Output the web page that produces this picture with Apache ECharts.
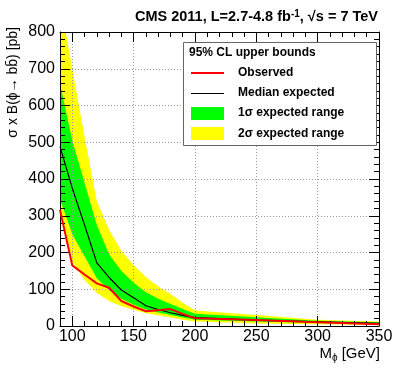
<!DOCTYPE html>
<html>
<head>
<meta charset="utf-8">
<script src="https://cdn.jsdelivr.net/npm/echarts@6/dist/echarts.min.js"></script>
<style>
  html, body { margin: 0; padding: 0; background: #fff; }
  #chart { width: 399px; height: 384px; }
</style>
</head>
<body>
<div id="chart"></div>
<script>
// Higgs mass points [GeV]
var masses = [90, 100, 110, 120, 130, 140, 150, 160, 170, 180, 190, 200, 250, 300, 350];
// 95% CL upper limits [pb]
var observed     = [316, 165, 140, 116, 104, 68, 53, 40, 43, 46, 33, 21, 16, 10, 5];
var expected     = [488, 375, 275, 172, 132, 98, 77, 55, 45, 36, 29, 23, 16, 11, 7];
var oneSigmaLow  = [345, 250, 190, 130, 97, 74, 58, 45, 37, 30, 23, 17, 12, 8, 5];
var oneSigmaHigh = [660, 505, 390, 275, 195, 150, 118, 92, 74, 60, 46, 33, 24, 14, 10];
var twoSigmaLow  = [318, 175, 125, 90, 68, 54, 44, 35, 29, 23, 17, 12, 7, 5, 3];
var twoSigmaHigh = [890, 700, 515, 340, 262, 205, 165, 133, 108, 87, 63, 42, 30, 17, 12];

var xMajor = [100, 150, 200, 250, 300, 350];

var FONT = "'Liberation Sans', Arial, Helvetica, sans-serif";

function pairs(ys) {
    return masses.map(function (m, i) { return [m, ys[i]]; });
}

// band polygon: low edge left->right, high edge right->left
function bandSeries(name, lo, hi, color, z) {
    return {
        name: name, type: 'custom', z: z, silent: true, clip: true,
        data: masses.map(function (m, i) { return [m, lo[i], hi[i]]; }),
        encode: { x: 0, y: [1, 2] },
        renderItem: function (params, api) {
            if (params.dataIndex !== 0) return;
            var pts = [];
            for (var i = 0; i < masses.length; i++) pts.push(api.coord([masses[i], lo[i]]));
            for (var j = masses.length - 1; j >= 0; j--) pts.push(api.coord([masses[j], hi[j]]));
            return {
                type: 'polygon',
                shape: { points: pts },
                style: { fill: color, stroke: null }
            };
        }
    };
}

var chart = echarts.init(document.getElementById('chart'), null, { width: 399, height: 384 });

var gridLine = { show: true, lineStyle: { color: '#999', width: 1, type: [1, 2] } };
var axisLine = { show: true, lineStyle: { color: '#000', width: 1 } };

var option = {
    animation: false,
    backgroundColor: '#fff',
    textStyle: { fontFamily: FONT },
    grid: { left: 60, right: 20, top: 32, bottom: 58, containLabel: false },
    xAxis: [
        {   // bottom, major ticks + labels
            type: 'value', position: 'bottom', min: 90, max: 350, z: 3,
            axisLine: axisLine,
            axisTick: { show: true, inside: true, length: 10, customValues: xMajor, lineStyle: { color: '#000' } },
            axisLabel: { show: true, customValues: xMajor, fontSize: 16, color: '#000', margin: 3, fontFamily: FONT },
            splitLine: gridLine
        },
        {   // bottom, minor ticks
            type: 'value', position: 'bottom', min: 90, max: 350, interval: 10, z: 3,
            axisLine: { show: false },
            axisTick: { show: true, inside: true, length: 5, lineStyle: { color: '#000' } },
            axisLabel: { show: false },
            splitLine: { show: false }
        },
        {   // top, major
            type: 'value', position: 'top', min: 90, max: 350, z: 3,
            axisLine: axisLine,
            axisTick: { show: true, inside: true, length: 10, customValues: xMajor, lineStyle: { color: '#000' } },
            axisLabel: { show: false },
            splitLine: { show: false }
        },
        {   // top, minor
            type: 'value', position: 'top', min: 90, max: 350, interval: 10, z: 3,
            axisLine: { show: false },
            axisTick: { show: true, inside: true, length: 5, lineStyle: { color: '#000' } },
            axisLabel: { show: false },
            splitLine: { show: false }
        }
    ],
    yAxis: [
        {
            type: 'value', position: 'left', min: 0, max: 800, interval: 100, z: 3,
            axisLine: axisLine,
            axisTick: { show: true, inside: true, length: 10, lineStyle: { color: '#000' } },
            minorTick: { show: true, splitNumber: 5, length: 5, lineStyle: { color: '#000' } },
            axisLabel: { show: true, fontSize: 16, color: '#000', margin: 5, fontFamily: FONT },
            splitLine: gridLine
        },
        {
            type: 'value', position: 'right', min: 0, max: 800, interval: 100, z: 3,
            axisLine: axisLine,
            axisTick: { show: true, inside: true, length: 10, lineStyle: { color: '#000' } },
            minorTick: { show: true, splitNumber: 5, length: 5, lineStyle: { color: '#000' } },
            axisLabel: { show: false },
            splitLine: { show: false }
        }
    ],
    series: [
        bandSeries('2\u03c3 expected range', twoSigmaLow, twoSigmaHigh, '#ffff00', 1),
        bandSeries('1\u03c3 expected range', oneSigmaLow, oneSigmaHigh, '#00ff00', 2),
        {
            name: 'Median expected', type: 'line', data: pairs(expected), z: 4,
            showSymbol: false, silent: true, lineStyle: { color: '#000', width: 1.2 }
        },
        {
            name: 'Observed', type: 'line', data: pairs(observed), z: 5,
            showSymbol: false, silent: true, lineStyle: { color: '#ff0000', width: 2 }
        }
    ],
    graphic: [
        // header
        {
            type: 'text', right: 21, top: 9, z: 10,
            style: {
                text: 'CMS 2011, L=2.7-4.8 fb{sup|-1}, \u221as = 7 TeV',
                font: 'bold 14.5px ' + FONT, fill: '#000',
                rich: { sup: { fontSize: 10, fontWeight: 'bold', verticalAlign: 'top', padding: [0, 0, 6, 0] } }
            }
        },
        // y-axis title
        {
            type: 'text', x: 13, y: 27, rotation: Math.PI / 2, z: 10,
            style: {
                text: '\u03c3 x B(\u03d5\u2192 bb\u0304) [pb]',
                font: '14px ' + FONT, fill: '#000', align: 'right', verticalAlign: 'middle'
            }
        },
        // x-axis title
        {
            type: 'text', x: 380, y: 354, z: 10,
            style: {
                text: 'M{s|\u03d5} [GeV]',
                font: '15px ' + FONT, fill: '#000', align: 'right', verticalAlign: 'middle',
                rich: { s: { fontSize: 10, padding: [8, 0, 0, 0] } }
            }
        },
        // legend box
        {
            type: 'rect', z: 10,
            shape: { x: 183.5, y: 42.5, width: 193, height: 103 },
            style: { fill: '#fff', stroke: '#666', lineWidth: 1 }
        },
        {
            type: 'text', x: 189, y: 53, z: 11,
            style: { text: '95% CL upper bounds', font: 'bold 12px ' + FONT, fill: '#000', verticalAlign: 'middle' }
        },
        { type: 'line', z: 11, shape: { x1: 191, y1: 73, x2: 224, y2: 73 }, style: { stroke: '#ff0000', lineWidth: 2 } },
        { type: 'text', x: 238, y: 73, z: 11, style: { text: 'Observed', font: 'bold 12px ' + FONT, fill: '#000', verticalAlign: 'middle' } },
        { type: 'line', z: 11, shape: { x1: 191, y1: 93.5, x2: 224, y2: 93.5 }, style: { stroke: '#000', lineWidth: 1 } },
        { type: 'text', x: 238, y: 93, z: 11, style: { text: 'Median expected', font: 'bold 12px ' + FONT, fill: '#000', verticalAlign: 'middle' } },
        { type: 'rect', z: 11, shape: { x: 191, y: 107, width: 33, height: 13 }, style: { fill: '#00ff00' } },
        { type: 'text', x: 238, y: 113, z: 11, style: { text: '1\u03c3 expected range', font: 'bold 12px ' + FONT, fill: '#000', verticalAlign: 'middle' } },
        { type: 'rect', z: 11, shape: { x: 191, y: 127, width: 33, height: 13 }, style: { fill: '#ffff00' } },
        { type: 'text', x: 238, y: 134, z: 11, style: { text: '2\u03c3 expected range', font: 'bold 12px ' + FONT, fill: '#000', verticalAlign: 'middle' } }
    ]
};

chart.setOption(option);
</script>
</body>
</html>
